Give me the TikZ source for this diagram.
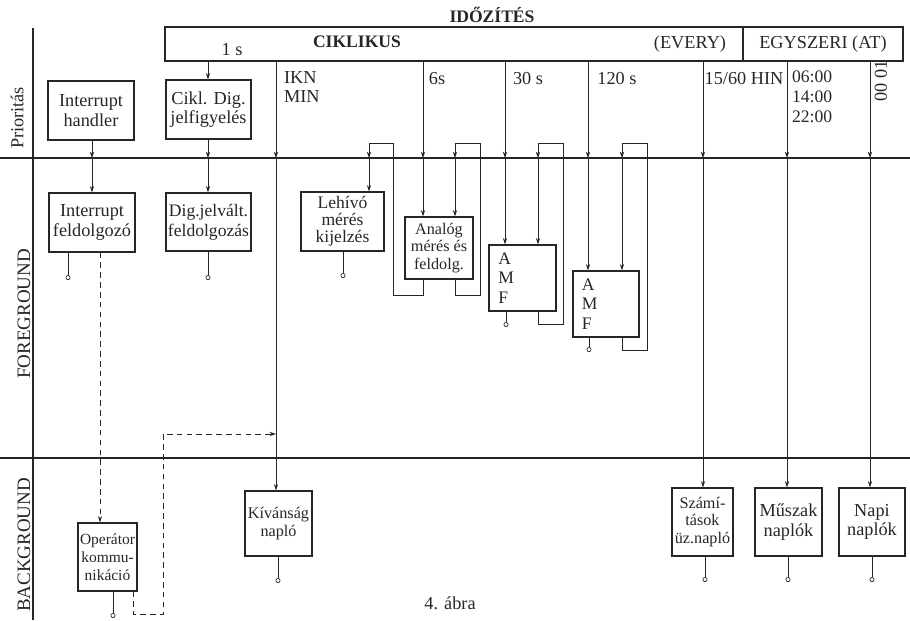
\documentclass[tikz,border=0pt]{standalone}
\usepackage{fontspec}
\setmainfont{Liberation Serif}
\usetikzlibrary{arrows.meta}
\begin{document}
\begin{tikzpicture}[x=0.025cm, y=-0.025cm, line width=0.5pt, color=black!85,
    font=\fontsize{13}{14}\selectfont,
    box/.style={draw, line width=0.9pt, align=center, inner sep=1pt},
    arr/.style={-{Stealth[length=4.5pt,width=3pt]}},
    outpin/.style={-{Circle[open,length=3.5pt,width=3.5pt]}},
    bar/.style={line width=0.9pt},
    dashline/.style={dash pattern=on 4pt off 3pt}]
    \useasboundingbox (0,0) rectangle (910,620);
    \draw[bar] (0,158) -- (910,158);
    \draw[bar] (0,458) -- (910,458);
    \draw[bar] (33,28) -- (33,620);
    \node[rotate=90] at (17,118) {Prioritás};
    \node[rotate=90, font=\fontsize{13.5}{14}\selectfont] at (24,314) {FOREGROUND};
    \node[rotate=90, font=\fontsize{13.5}{14}\selectfont] at (24,545) {BACKGROUND};
    \node[font=\fontsize{12.5}{13}\selectfont\bfseries] (idz) at (492,15) {IDŐZÍTÉS};
    \node[box, minimum width=14.45cm, minimum height=0.85cm] (cik) at (454,44) {};
    \node[box, minimum width=4cm, minimum height=0.85cm] (egy) at (823,44) {EGYSZERI (AT)};
    \node[font=\fontsize{12.5}{13}\selectfont\bfseries] at (357,42) {CIKLIKUS};
    \node at (232,50) {1 s};
    \node at (690,44) {(EVERY)};
    \node[anchor=north west, align=left] at (279,66) {IKN\\MIN};
    \node at (437,79) {6s};
    \node at (528,79) {30 s};
    \node at (617,79) {120 s};
    \node at (744,79) {15/60 HIN};
    \node[anchor=north west, align=left, font=\fontsize{12.5}{14}\selectfont] at (787,66) {06:00\\14:00\\22:00};
    \node[rotate=90] at (881,81) {00 01};
    \node at (450,603) {4. ábra};
    % dobozok
    \node[box, minimum width=2.15cm, minimum height=1.475cm] (ih) at (91,110.5) {Interrupt\\handler};
    \node[box, minimum width=2.125cm, minimum height=1.475cm] (cdj) at (208.5,109.5) {Cikl. Dig.\\jelfigyelés};
    \node[box, minimum width=2.15cm, minimum height=1.475cm] (ifd) at (92,222.5) {Interrupt\\feldolgozó};
    \node[box, minimum width=2.125cm, minimum height=1.45cm, font=\fontsize{12.5}{14}\selectfont] (djf) at (208.5,222) {Dig.jelvált.\\feldolgozás};
    \node[box, minimum width=2.075cm, minimum height=1.475cm, font=\fontsize{12.5}{12}\selectfont] (leh) at (342.5,221.5) {Lehívó\\mérés\\kijelzés};
    \node[box, minimum width=1.7cm, minimum height=1.55cm, font=\fontsize{11.5}{12.5}\selectfont] (ana) at (439,248) {Analóg\\mérés és\\feldolg.};
    \node[box, minimum width=1.675cm, minimum height=1.65cm, text width=1.2cm, align=left, font=\fontsize{12.5}{14}\selectfont] (amf1) at (522.5,278) {A\\M\\F};
    \node[box, minimum width=1.65cm, minimum height=1.65cm, text width=1.2cm, align=left, font=\fontsize{12.5}{14}\selectfont] (amf2) at (606,304) {A\\M\\F};
    \node[box, minimum width=1.675cm, minimum height=1.625cm, font=\fontsize{11.5}{13}\selectfont] (kiv) at (278.5,523.5) {Kívánság\\napló};
    \node[box, minimum width=1.475cm, minimum height=1.7cm, font=\fontsize{11}{12.8}\selectfont] (opk) at (107.5,557) {Operátor\\kommu-\\nikáció};
    \node[box, minimum width=1.525cm, minimum height=1.7cm, font=\fontsize{11.5}{12.5}\selectfont] (szn) at (702.5,522) {Számí-\\tások\\üz.napló};
    \node[box, minimum width=1.675cm, minimum height=1.7cm] (msz) at (788.5,522) {Műszak\\naplók};
    \node[box, minimum width=1.65cm, minimum height=1.7cm] (npn) at (872,522) {Napi\\naplók};
    % pontok a prioritas-vonalon
    \foreach \n/\x in {ih/92, s1/208, ikn/276, s6/423, s30/505, s120/588, s15/703, at1/787, at2/870, la/369, lb/455, lc/538, ld/622}
        \coordinate (m\n) at (\x,158);
    \draw[arr] (mih |- ih.south) -- (mih);
    \draw[arr] (mih) -- (mih |- ifd.north);
    \draw[arr] (ms1 |- cik.south) -- (ms1 |- cdj.north);
    \draw[arr] (ms1 |- cdj.south) -- (ms1);
    \draw[arr] (ms1) -- (ms1 |- djf.north);
    \foreach \n/\b in {ikn/kiv, s6/ana, s30/amf1, s120/amf2, s15/szn} {
        \draw[arr] (m\n |- cik.south) -- (m\n);
        \draw[arr] (m\n) -- (m\n |- \b.north);
    }
    \foreach \n/\b in {at1/msz, at2/npn} {
        \draw[arr] (m\n |- egy.south) -- (m\n);
        \draw[arr] (m\n) -- (m\n |- \b.north);
    }
    % visszacsatolasok
    \draw[arr] (ms6 |- ana.south) |- (393,295) |- (369,143) -- (mla);
    \draw[arr] (mla) -- (mla |- leh.north);
    \draw[arr] (mlb |- ana.south) |- (480,295) |- (455,143) -- (mlb);
    \draw[arr] (mlb) -- (mlb |- ana.north);
    \draw[arr] (mlc |- amf1.south) |- (563,324) |- (538,143) -- (mlc);
    \draw[arr] (mlc) -- (mlc |- amf1.north);
    \draw[arr] (mld |- amf2.south) |- (647,350) |- (622,143) -- (mld);
    \draw[arr] (mld) -- (mld |- amf2.north);
    % kimenetek
    \draw[outpin] (68,0 |- ifd.south) -- (68,280);
    \draw[outpin] (208,0 |- djf.south) -- (208,280);
    \draw[outpin] (343,0 |- leh.south) -- (343,278);
    \draw[outpin] (506,0 |- amf1.south) -- (506,327);
    \draw[outpin] (589,0 |- amf2.south) -- (589,352);
    \draw[outpin] (278,0 |- kiv.south) -- (278,583);
    \draw[outpin] (113,0 |- opk.south) -- (113,618);
    \draw[outpin] (705,0 |- szn.south) -- (705,582);
    \draw[outpin] (788,0 |- msz.south) -- (788,582);
    \draw[outpin] (872,0 |- npn.south) -- (872,582);
    % operator kapcsolat
    \draw[arr, dashline] (100,0 |- ifd.south) -- (100,0 |- opk.north);
    \draw[arr, dashline] (133,0 |- opk.south) |- (163,614) |- (mikn |- 0,434);
\end{tikzpicture}
\end{document}
